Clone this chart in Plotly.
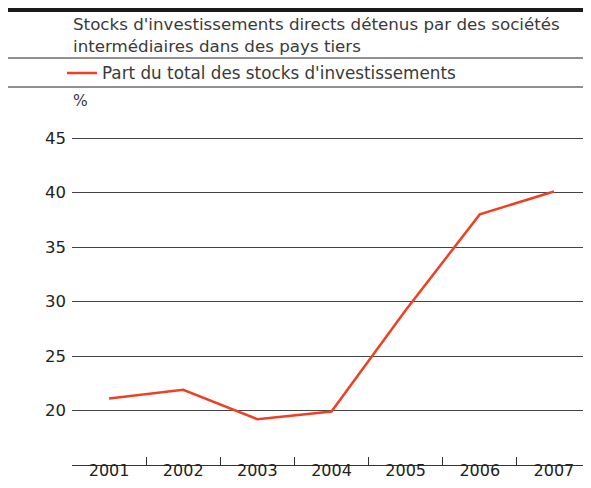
import plotly.graph_objects as go

# ── Data ───────────────────────────────────────────────────────────────────
years = ["2001", "2002", "2003", "2004", "2005", "2006", "2007"]
share_pct = [21.1, 21.9, 19.2, 19.9, 29.2, 38.0, 40.1]

title_text = ("Stocks d'investissements directs détenus par des sociétés<br>"
              "intermédiaires dans des pays tiers")
series_name = "Part du total des stocks d'investissements"
unit_label = "%"

# ── Geometry ───────────────────────────────────────────────────────────────
# The page body keeps an 8px margin, so the figure is 16px smaller than the
# window; the plot runs to the right edge and the category axis is cut there.
W, H = 575, 472
L, R, T, B = 64, 0, 129, 15
PW, PH = W - L - R, H - T - B
CAT_PX = 74.14  # width of one year slot in the original

x_max = -0.5 + PW / CAT_PX


def px(x):
    return (x - L) / PW


def py(y):
    return (H - B - y) / PH


TEXT = "#3a3a3a"
RED = "#ee4023"
FONT = "DejaVu Sans, Liberation Sans, Arial, sans-serif"

fig = go.Figure()
fig.add_trace(
    go.Scatter(
        x=years,
        y=share_pct,
        mode="lines",
        name=series_name,
        line=dict(color=RED, width=2.5),
    )
)

# header rules
shapes = [
    dict(type="rect", xref="paper", yref="paper", x0=px(0), x1=px(W),
         y0=py(4), y1=py(-1), fillcolor="#1a1a1a", line=dict(width=0)),
    dict(type="line", xref="paper", yref="paper", x0=px(0), x1=px(W),
         y0=py(50), y1=py(50), line=dict(color="#222222", width=1)),
    dict(type="line", xref="paper", yref="paper", x0=px(0), x1=px(W),
         y0=py(79), y1=py(79), line=dict(color="#222222", width=1)),
]

annotations = [
    dict(text=title_text, xref="paper", yref="paper", x=px(63), y=py(27.5),
         xanchor="left", yanchor="middle", align="left", showarrow=False,
         font=dict(size=16.7, color=TEXT, family=FONT)),
    dict(text=unit_label, xref="paper", yref="paper", x=px(63), y=py(93),
         xanchor="left", yanchor="middle", showarrow=False,
         font=dict(size=15.5, color=TEXT, family=FONT)),
]

fig.update_layout(
    width=W,
    height=H,
    margin=dict(l=L, r=R, t=T, b=B, pad=0, autoexpand=False),
    paper_bgcolor="white",
    plot_bgcolor="white",
    font=dict(family=FONT, size=16.5, color="#222222"),
    showlegend=True,
    legend=dict(
        orientation="h",
        x=px(54), xanchor="left",
        y=py(65), yanchor="middle",
        font=dict(size=16.8, color=TEXT, family=FONT),
        bgcolor="rgba(0,0,0,0)",
        borderwidth=0,
    ),
    shapes=shapes,
    annotations=annotations,
    xaxis=dict(
        type="category",
        range=[-0.5, x_max],
        tickson="boundaries",
        ticks="inside",
        ticklen=8,
        tickcolor="#333333",
        showline=True,
        linecolor="#333333",
        linewidth=1,
        showgrid=False,
        zeroline=False,
        ticklabelstandoff=-9,
        tickfont=dict(size=16),
        automargin=False,
        fixedrange=True,
    ),
    yaxis=dict(
        range=[15, 45.1],
        tickvals=[20, 25, 30, 35, 40, 45],
        showgrid=True,
        gridcolor="#444444",
        gridwidth=1,
        zeroline=False,
        showline=False,
        ticks="",
        ticklabelstandoff=5,
        automargin=False,
        fixedrange=True,
    ),
)

fig.write_html("out.html")
